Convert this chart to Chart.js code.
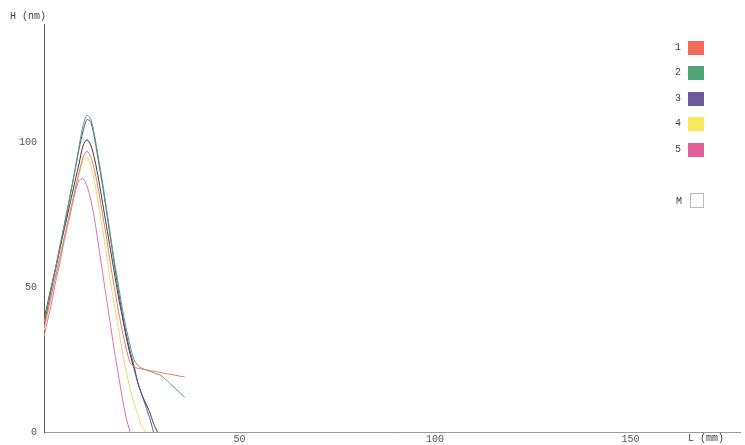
<!DOCTYPE html>
<html>
<head>
<meta charset="utf-8">
<script src="https://cdn.jsdelivr.net/npm/chart.js@4/dist/chart.umd.min.js"></script>
<style>
  html, body { margin: 0; padding: 0; background: #fff; }
  #wrap { position: relative; width: 745px; height: 445px; }
  canvas { position: absolute; left: 0; top: 0; }
  .txt { position: absolute; font-family: "Liberation Mono", "DejaVu Sans Mono", monospace; font-size: 10px; color: #444; white-space: nowrap; line-height: 12px; }
  .sw { position: absolute; width: 16px; height: 14px; }
</style>
</head>
<body>
<div id="wrap">
  <canvas id="c" width="745" height="445"></canvas>
</div>
<script>
// Profile positions along the trace (mm)
const positionsMm = [0,1,2,3,4,5,6,7,8,9,10,11,12,13,14,15,16,17,18,19,20,21,22,23,24,25,26,27,28,29,30,32,34,36];

// Height profiles (nm) for each trace, null where the trace has ended
const trace1 = [36,42,48,54,60,66,72,78,84,90,95,97,95,90,83,75,67,58,50,42,35,29,24,22.5,22,21.8,21.5,21.3,21,20.8,20.5,20,19.5,19];
const trace2 = [38,44.5,51,57,64,70.5,77,84,91,99,106,109.5,108,102,94,86,77,68,59,51,43,36,30,25,23,22,21.5,21,20.5,20,19.5,17,14.5,12];
const trace3 = [37,43.5,50,56.5,63,70,77,84,91,98,104,108,107,101,93,85,76,67,58,49,41,34,28,23,17,13,9,5,0,null,null,null,null,null];
const trace4 = [35,41,47.5,54,60,66,72,78,84,89,94,95,92,86,78,70,61,52,44,36,28,21,15,10,6,2,0,null,null,null,null,null,null,null];
const trace5 = [33,39,45,52,58,65,71,77,83,87,87.5,85,80,73,64,55,46,37,28,20,12,5,0,null,null,null,null,null,null,null,null,null,null,null];
const traceMean = [39,45,51,57,63,69,75,81,87,93,99,101,99,94,87,79,71,63,55,47,40,33,27,22,17,13,10,7,3,0,null,null,null,null];

const seriesNames = ["1", "2", "3", "4", "5"];
const yTicks = [0, 50, 100];
const xTicks = [50, 100, 150];

const lineColors = ["#e8786a", "#5c9c78", "#5a4f8a", "#e6da6c", "#e070a8"];
const swatchColors = ["#f26b5b", "#4fa57a", "#6b5b9e", "#f7e85e", "#e0609a"];

function toPoints(values) {
  const pts = [];
  values.forEach((v, i) => { if (v !== null) pts.push({ x: positionsMm[i], y: v }); });
  return pts;
}

const traces = [trace1, trace2, trace3, trace4, trace5];
const datasets = traces.map((t, i) => ({
  label: seriesNames[i],
  data: toPoints(t),
  borderColor: lineColors[i],
  borderWidth: 1,
  pointRadius: 0,
  tension: 0.25,
  fill: false
}));
datasets.push({
  label: "M",
  data: toPoints(traceMean),
  borderColor: "#3a3a3a",
  borderWidth: 1,
  pointRadius: 0,
  tension: 0.25,
  fill: false
});

const tickFont = { family: "Liberation Mono, DejaVu Sans Mono, monospace", size: 10 };

new Chart(document.getElementById("c"), {
  type: "line",
  data: { datasets },
  options: {
    responsive: false,
    devicePixelRatio: 1,
    animation: false,
    layout: { padding: { left: 0, top: 24, right: 5, bottom: 0 } },
    plugins: { legend: { display: false }, tooltip: { enabled: false } },
    scales: {
      x: {
        type: "linear",
        min: 0,
        max: 178,
        afterFit: (s) => { s.height = 13; },
        afterBuildTicks: (s) => { s.ticks = xTicks.map(v => ({ value: v })); },
        grid: { display: false, drawTicks: false },
        border: { color: "#9a9a9a", width: 1 },
        ticks: { color: "#555", font: tickFont, padding: 1, maxRotation: 0 }
      },
      y: {
        min: 0,
        max: 141,
        afterFit: (s) => { s.width = 44; },
        afterBuildTicks: (s) => { s.ticks = yTicks.map(v => ({ value: v })); },
        grid: { display: false, drawTicks: false },
        border: { color: "#555", width: 1 },
        ticks: { color: "#555", font: tickFont, padding: 7 }
      }
    }
  }
});

// Axis captions and legend
const wrap = document.getElementById("wrap");
function addText(str, left, top) {
  const d = document.createElement("div");
  d.className = "txt";
  d.textContent = str;
  d.style.left = left + "px";
  d.style.top = top + "px";
  wrap.appendChild(d);
}
addText("H (nm)", 10, 11);
addText("L (mm)", 688, 433);

const legendTops = [41, 66, 92, 117, 143];
seriesNames.forEach((name, i) => {
  addText(name, 675, legendTops[i] + 1);
  const s = document.createElement("div");
  s.className = "sw";
  s.style.left = "688px";
  s.style.top = legendTops[i] + "px";
  s.style.background = swatchColors[i];
  wrap.appendChild(s);
});
addText("M", 676, 196);
const m = document.createElement("div");
m.className = "sw";
m.style.left = "690px";
m.style.top = "193px";
m.style.border = "1px solid #bbb";
m.style.width = "14px";
m.style.height = "15px";
m.style.boxSizing = "border-box";
wrap.appendChild(m);
</script>
</body>
</html>
